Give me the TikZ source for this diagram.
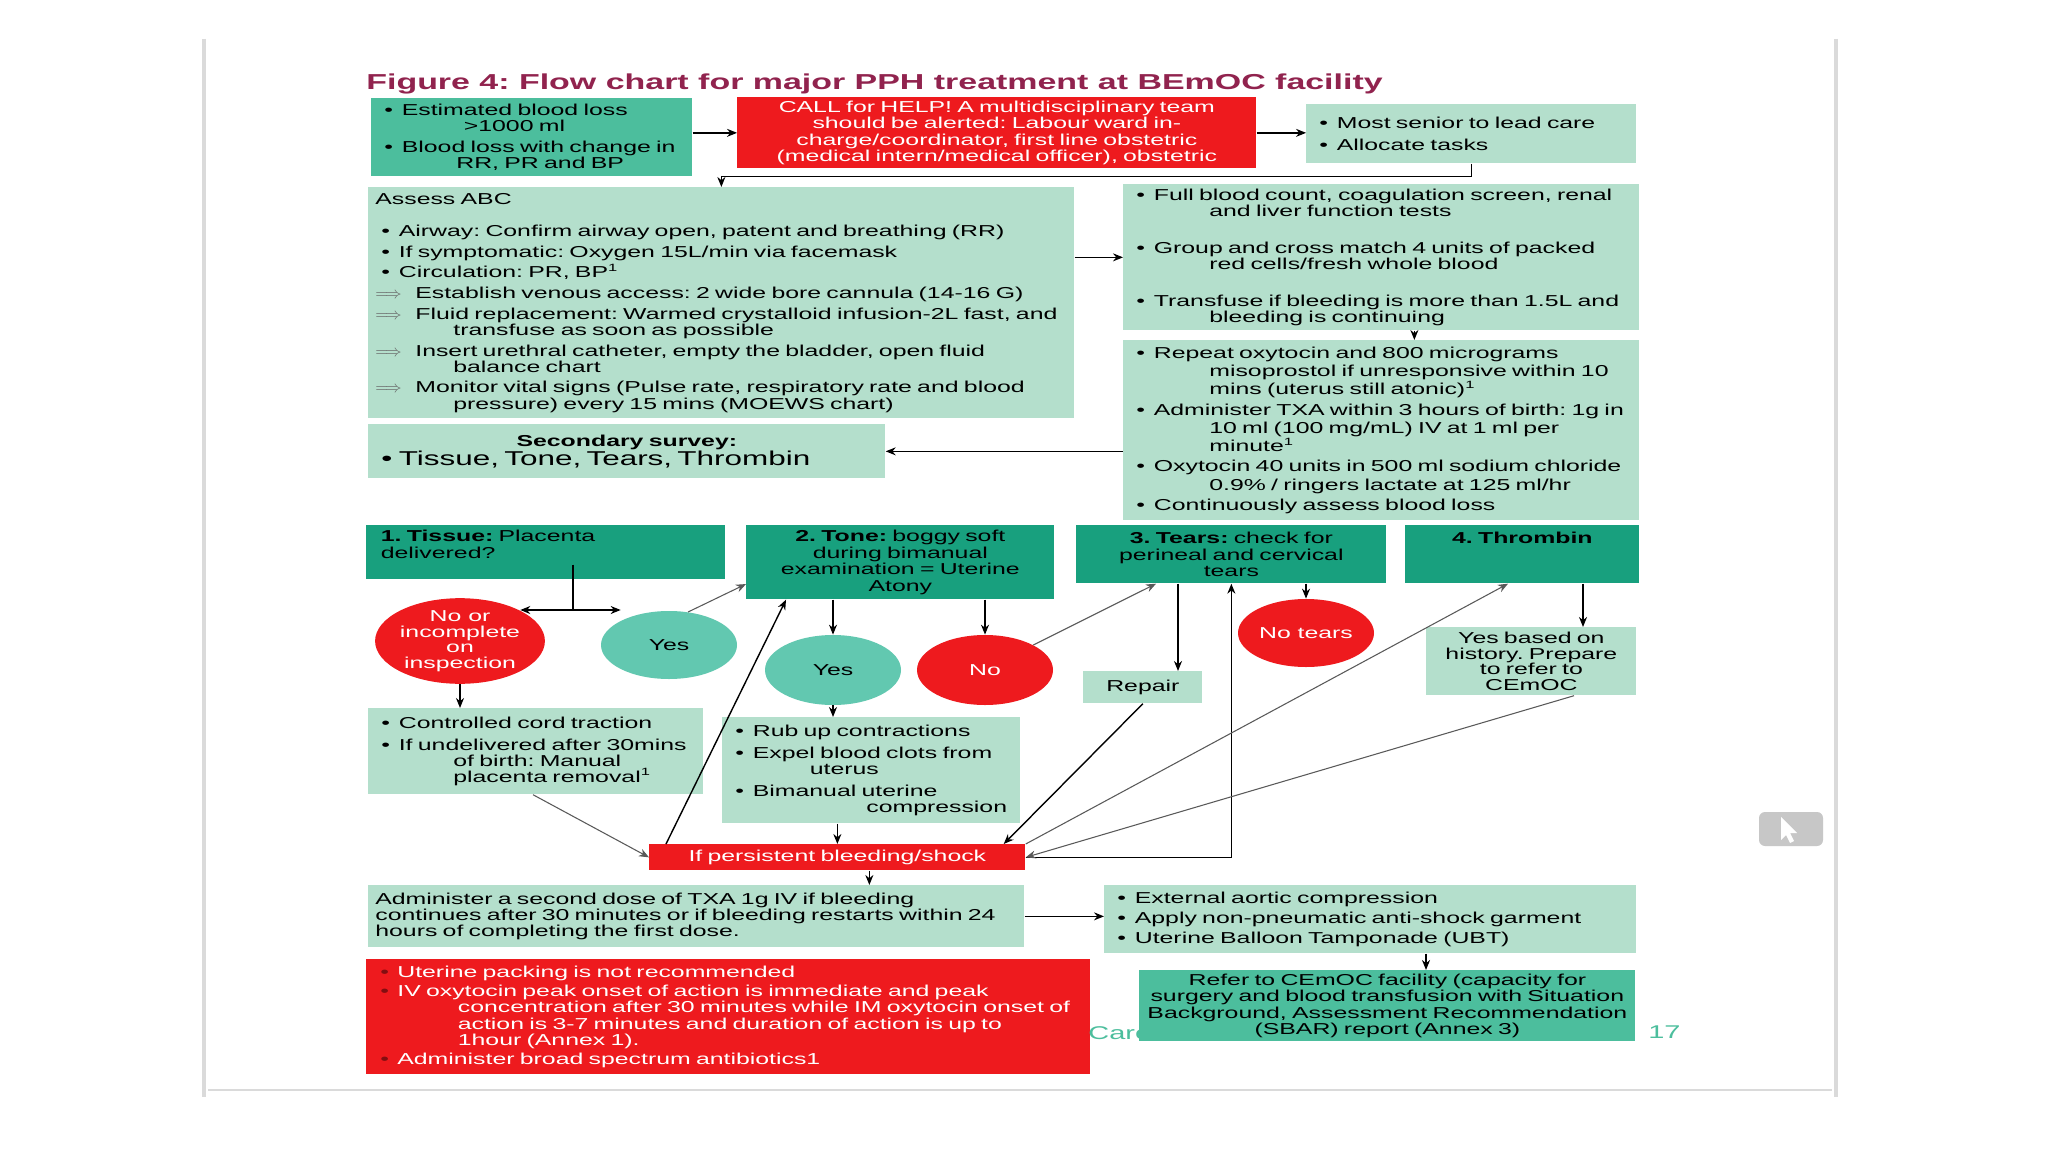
\documentclass[tikz,border=0pt]{standalone}
\usepackage{fontspec}
\setmainfont{Liberation Sans}[FakeStretch=1.57]
\usetikzlibrary{arrows.meta, positioning, calc, shapes.geometric}
\definecolor{hdrgreen}{RGB}{24,160,126}
\definecolor{midgreen}{RGB}{76,190,157}
\definecolor{yesgreen}{RGB}{98,200,176}
\definecolor{mintfill}{RGB}{180,223,204}
\definecolor{alertred}{RGB}{238,26,30}
\definecolor{titlered}{RGB}{145,35,78}
\definecolor{pagegray}{RGB}{218,218,218}
\frenchspacing
\newcommand\boxfont{\fontsize{9}{9.2}\selectfont}
\newcommand\itm{\makebox[4.7mm][l]{\hspace{1.2mm}\textbullet}}
\newcommand\ritm{\makebox[5.6mm][l]{\hspace{2.2mm}\textcolor{alertred!55!black}{\textbullet}}}
\newcommand\arw{\makebox[8mm][l]{\textcolor{black!60}{$\Longrightarrow$}}}
\newcommand\refmark{\smash{\textsuperscript{1}}}
\tikzset{
  box/.style={rectangle, anchor=north west, inner xsep=1.4mm, inner ysep=0.6mm, align=left, font=\boxfont},
  mint/.style={box, fill=mintfill},
  hdr/.style={box, fill=hdrgreen},
  midg/.style={box, fill=midgreen},
  alert/.style={box, fill=alertred, text=white},
  oval/.style={ellipse, inner sep=0pt, align=center, font=\fontsize{9}{8.8}\selectfont},
  arr/.style={-{Stealth[length=2mm, width=1.6mm]}, line width=0.8pt},
  lnk/.style={-{Stealth[length=2mm, width=1.6mm]}, line width=0.6pt, black!65},
}
\begin{document}
\begin{tikzpicture}[x=0.2mm, y=-0.2mm]
  \fill[white] (0,0) rectangle (2048,1152);
  \useasboundingbox (0,0) rectangle (2048,1152);
  \draw[pagegray, line width=0.8mm] (204,39) -- (204,1097);
  \draw[pagegray, line width=0.8mm] (1836,39) -- (1836,1097);
  \draw[pagegray, line width=0.5mm] (208,1090) -- (1832,1090);

  \node[anchor=west, inner sep=0pt, text=titlered, font=\fontsize{12.3}{14}\selectfont\bfseries] (title) at (366,84)
    {Figure 4: Flow chart for major PPH treatment at BEmOC facility};

  \node[midg, text width=61.4mm, minimum height=15.6mm] (A) at (371,98)
    {\itm Estimated blood loss\\ \hspace*{17.1mm}>1000 ml\\[1mm]
     \itm Blood loss with change in\\ \hspace*{15.6mm}RR, PR and BP};
  \node[alert, align=center, text width=101mm, minimum height=14.2mm] (B) at (737,97)
    {CALL for HELP! A multidisciplinary team\\ should be alerted: Labour ward in-\\
     charge/coordinator, first line obstetric\\ (medical intern/medical officer), obstetric};
  \node[mint, text width=63.2mm, minimum height=11.8mm] (C) at (1306,104)
    {\itm Most senior to lead care\\[1mm] \itm Allocate tasks};

  \node[mint, text width=138.4mm, minimum height=46.2mm] (D) at (368,187)
    {Assess ABC\\[3.2mm]
     \itm Airway: Confirm airway open, patent and breathing (RR)\\[0.9mm]
     \itm If symptomatic: Oxygen 15L/min via facemask\\[0.9mm]
     \itm Circulation: PR, BP\refmark\\[0.9mm]
     \arw Establish venous access: 2 wide bore cannula (14-16 G)\\[0.9mm]
     \arw Fluid replacement: Warmed crystalloid infusion-2L fast, and\\
     \hspace*{15.6mm}transfuse as soon as possible\\[0.9mm]
     \arw Insert urethral catheter, empty the bladder, open fluid\\
     \hspace*{15.6mm}balance chart\\[0.9mm]
     \arw Monitor vital signs (Pulse rate, respiratory rate and blood\\
     \hspace*{15.6mm}pressure) every 15 mins (MOEWS chart)};
  \node[mint, text width=100.4mm, minimum height=29.2mm] (E) at (1123,184)
    {\itm Full blood count, coagulation screen, renal\\ \hspace*{15.8mm}and liver function tests\\[4.1mm]
     \itm Group and cross match 4 units of packed\\ \hspace*{15.8mm}red cells/fresh whole blood\\[4.1mm]
     \itm Transfuse if bleeding is more than 1.5L and\\ \hspace*{15.8mm}bleeding is continuing};
  \node[mint, text width=100.4mm, minimum height=36mm, font=\fontsize{9}{10.4}\selectfont] (F) at (1123,340)
    {\itm Repeat oxytocin and 800 micrograms\\ \hspace*{15.8mm}misoprostol if unresponsive within 10\\
     \hspace*{15.8mm}mins (uterus still atonic)\refmark\\[0.4mm]
     \itm Administer TXA within 3 hours of birth: 1g in\\ \hspace*{15.8mm}10 ml (100 mg/mL) IV at 1 ml per\\
     \hspace*{15.8mm}minute\refmark\\[0.4mm]
     \itm Oxytocin 40 units in 500 ml sodium chloride\\ \hspace*{15.8mm}0.9\% / ringers lactate at 125 ml/hr\\[0.4mm]
     \itm Continuously assess blood loss};
  \node[mint, text width=100.6mm, minimum height=10.8mm] (G) at (368,424)
    {\makebox[100.6mm]{\textbf{Secondary survey:}}\\
     {\fontsize{11.4}{12}\selectfont\itm Tissue, Tone, Tears, Thrombin}};

  \node[hdr, inner xsep=2.9mm, text width=66mm, minimum height=10.8mm] (H1) at (366,525)
    {\textbf{1. Tissue:} Placenta\\ delivered?\\ \mbox{}};
  \node[hdr, align=center, text width=58.8mm, minimum height=14.8mm, font=\fontsize{9}{9.6}\selectfont] (H2) at (746,525)
    {\textbf{2. Tone:} boggy soft\\ during bimanual\\ examination = Uterine\\ Atony};
  \node[hdr, align=center, text width=59.2mm, minimum height=11.6mm] (H3) at (1076,525)
    {\textbf{3. Tears:} check for\\ perineal and cervical\\ tears};
  \node[hdr, align=center, text width=44mm, minimum height=11.6mm] (H4) at (1405,525)
    {\textbf{4. Thrombin}\\ \mbox{}\\ \mbox{}};

  \node[oval, fill=alertred, text=white, minimum width=32.4mm, minimum height=15.6mm] (E1) at (460,641)
    {No or\\ incomplete\\ on\\ inspection};
  \node[oval, fill=yesgreen, minimum width=27.2mm, minimum height=13.6mm] (Yes1) at (669,645) {Yes};
  \node[oval, fill=yesgreen, minimum width=27.2mm, minimum height=14mm] (Yes2) at (833,670) {Yes};
  \node[oval, fill=alertred, text=white, minimum width=27.2mm, minimum height=14mm] (No2) at (985,670) {No};
  \node[oval, fill=alertred, text=white, minimum width=27.2mm, minimum height=13.6mm] (NoTears) at (1306,633) {No tears};

  \node[mint, align=center, text width=21mm, minimum height=6.4mm] (Repair) at (1083,671) {Repair};
  \node[mint, align=center, inner ysep=0.2mm, text width=39.2mm, minimum height=13.6mm, font=\fontsize{9}{8.8}\selectfont] (YesHist) at (1426,627)
    {Yes based on\\ history. Prepare\\ to refer to\\ CEmOC};
  \node[mint, text width=64.2mm, minimum height=17.2mm] (Cord) at (368,708)
    {\itm Controlled cord traction\\[1.2mm]
     \itm If undelivered after 30mins\\ \hspace*{15.6mm}of birth: Manual\\ \hspace*{15.6mm}placenta removal\refmark};
  \node[mint, text width=56.8mm, minimum height=21.2mm] (Rub) at (722,717)
    {\itm Rub up contractions\\[1.1mm]
     \itm Expel blood clots from\\ \hspace*{16.1mm}uterus\\[1.1mm]
     \itm Bimanual uterine\\ \hspace*{27.4mm}\mbox{compression}};
  \node[alert, align=center, text width=72.4mm, minimum height=5.2mm] (Persist) at (649,844)
    {If persistent bleeding/shock};

  \node[mint, text width=128.4mm, minimum height=12.4mm] (Admin) at (368,885)
    {Administer a second dose of TXA 1g IV if bleeding\\
     continues after 30 minutes or if bleeding restarts within 24\\
     hours of completing the first dose.};
  \node[mint, text width=103.6mm, minimum height=13.6mm] (Ext) at (1104,885)
    {\itm External aortic compression\\[0.8mm]
     \itm Apply non-pneumatic anti-shock garment\\[0.8mm]
     \itm Uterine Balloon Tamponade (UBT)};
  \node[alert, inner xsep=0.6mm, text width=143.6mm, minimum height=23mm] (RedBot) at (366,959)
    {\ritm Uterine packing is not recommended\\[0.6mm]
     \ritm IV oxytocin peak onset of action is immediate and peak\\
     \hspace*{17.7mm}concentration after 30 minutes while IM oxytocin onset of\\
     \hspace*{17.7mm}action is 3-7 minutes and duration of action is up to\\
     \hspace*{17.7mm}1hour (Annex 1).\\[0.6mm]
     \ritm Administer broad spectrum antibiotics1};

  \node[anchor=west, inner sep=0pt, text=midgreen, font=\fontsize{10.5}{12}\selectfont] (care) at (1088,1033) {Care};
  \node[anchor=west, inner sep=0pt, text=midgreen, font=\fontsize{10.5}{12}\selectfont] (page) at (1648,1032) {17};
  \node[midg, align=center, inner xsep=0.5mm, text width=98.2mm, minimum height=14.2mm] (Refer) at (1139,970)
    {Refer to CEmOC facility (capacity for\\ surgery and blood transfusion with Situation\\
     Background, Assessment Recommendation\\ (SBAR) report (Annex 3)};

  \draw[arr] (A.east |- B.west) -- (B.west);
  \draw[arr] (B.east) -- (B.east -| C.west);
  \draw[arr] (C.south) -- ++(0,13) -| (D.north);
  \draw[arr] (D.east |- E.west) -- (E.west);
  \draw[arr] ([xshift=6.6mm]E.south) -- ([xshift=6.6mm]F.north);
  \draw[arr] (F.west |- G.east) -- (G.east);

  \coordinate (split) at (573,610);
  \draw[line width=0.8pt] ($(H1.south -| split)+(0,-15)$) -- (split);
  \draw[arr] (split) -- (split -| E1.north east);
  \draw[arr] (split) -- (split -| Yes1.north west);
  \draw[lnk] (Yes1.60) -- (H2.188);
  \draw[arr] ([xshift=3.4mm]Persist.north west) -- ([xshift=8mm]H2.south west);
  \draw[arr] (H2.south -| Yes2.north) -- (Yes2.north);
  \draw[arr] (H2.south -| No2.north) -- (No2.north);
  \draw[arr] (Yes2.south) -- (Yes2.south |- Rub.north);
  \draw[lnk] (No2.north east) -- ([xshift=16mm]H3.south west);
  \coordinate (tearsdown) at ([xshift=20.4mm]H3.south west);
  \draw[arr] (tearsdown) -- (tearsdown |- Repair.north);
  \draw[arr] (Persist.east) -| (H3.south);
  \draw[arr] (H3.south -| NoTears.north) -- (NoTears.north);
  \draw[arr] (Repair.south) -- ([xshift=-4.4mm]Persist.north east);
  \draw[lnk] (Persist.north east) -- ([xshift=20.6mm]H4.south west);
  \draw[lnk] ([xshift=29.6mm]YesHist.south west) -- (Persist.east);
  \coordinate (thromdown) at ([xshift=35.6mm]H4.south west);
  \draw[arr] (thromdown) -- (thromdown |- YesHist.north);
  \draw[arr] (E1.south) -- (E1.south |- Cord.north);
  \draw[lnk] ([xshift=33mm]Cord.south west) -- (Persist.west);
  \draw[arr] (Persist.north |- Rub.south) -- (Persist.north);
  \coordinate (bleeddown) at ([xshift=6.4mm]Persist.south);
  \draw[arr] (bleeddown) -- (bleeddown |- Admin.north);
  \draw[arr] (Admin.east) -- (Admin.east -| Ext.west);
  \coordinate (extdown) at ([xshift=64.4mm]Ext.south west);
  \draw[arr] (extdown) -- (extdown |- Refer.north);

  \fill[black!22, rounded corners=1.2mm] (1759,812) rectangle (1823,846);
  \fill[white] (1781,817) -- (1781,840) -- (1786,835) -- (1790,843) -- (1794,841) -- (1790,833) -- (1797,833) -- cycle;
\end{tikzpicture}
\end{document}
